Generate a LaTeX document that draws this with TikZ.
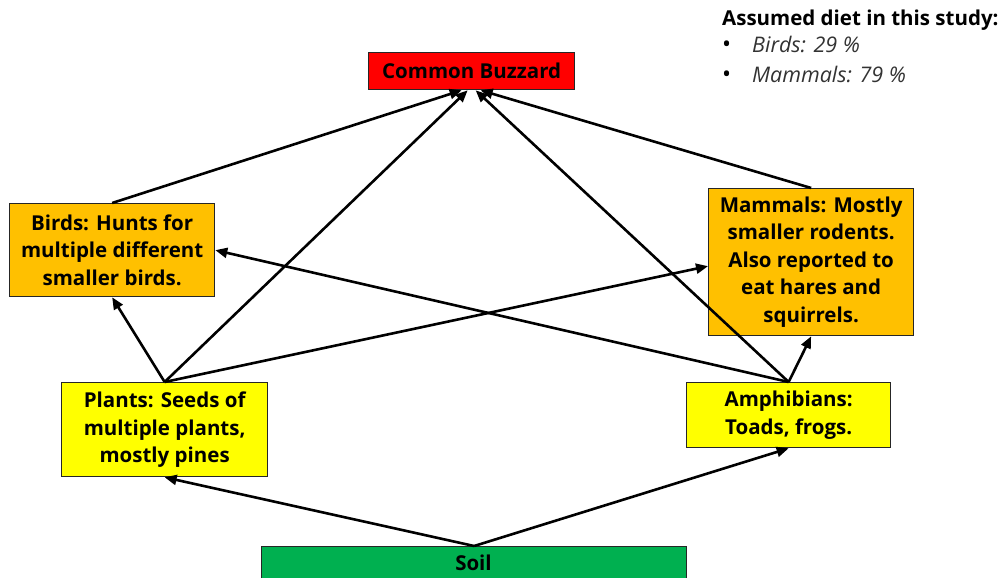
\documentclass[tikz,border=0pt]{standalone}
\usepackage{fontspec}
\setmainfont{Open Sans}
\usetikzlibrary{arrows.meta,calc}
\definecolor{buzzred}{HTML}{FF0000}
\definecolor{predorange}{HTML}{FFC000}
\definecolor{preyyellow}{HTML}{FFFF00}
\definecolor{soilgreen}{HTML}{00B050}
\begin{document}
\begin{tikzpicture}[x=1pt,y=-1pt,
  box/.style={draw=black!85,line width=1.3pt,anchor=north west,inner sep=0pt,
    align=center,font=\fontsize{20.5}{27.5}\selectfont\bfseries},
  feed/.style={line width=2.6pt,-{Triangle[length=12pt,width=10pt]}},
  legend/.style={anchor=base west,inner sep=0pt}]
\clip (0,0) rectangle (1007,578);
\fill[white] (0,0) rectangle (1007,578);

% trophic levels
\node[box,fill=buzzred,minimum width=206pt,minimum height=37pt] (buzz) at (368,52) {Common Buzzard};
\node[box,fill=predorange,minimum width=205pt,minimum height=93pt] (birds) at (9,203)
  {Birds: Hunts for\\multiple different\\smaller birds.};
\node[box,fill=predorange,minimum width=205pt,minimum height=147pt] (mammals) at (708,188)
  {Mammals: Mostly\\smaller rodents.\\Also reported to\\eat hares and\\squirrels.};
\node[box,fill=preyyellow,minimum width=206pt,minimum height=94pt] (plants) at (61,382)
  {Plants: Seeds of\\multiple plants,\\mostly pines};
\node[box,fill=preyyellow,minimum width=204pt,minimum height=65pt] (amph) at (686,382)
  {Amphibians:\\Toads, frogs.};
\node[box,fill=soilgreen,minimum width=425pt,minimum height=44pt] (soil) at (261,546) {};
\node[font=\fontsize{20.5}{22}\selectfont\bfseries,inner sep=0pt] (soiltext) at (473.5,563) {Soil};

% feeding links
\draw[feed] (birds.north) -- ([xshift=-10pt]buzz.south);
\draw[feed] (plants.north) -- ([xshift=-4pt]buzz.south);
\draw[feed] (amph.north) -- ([xshift=4pt]buzz.south);
\draw[feed] (mammals.north) -- ([xshift=9pt]buzz.south);
\draw[feed] (plants.north) -- (birds.south);
\draw[feed] (plants.north) -- ([yshift=-4pt]mammals.west);
\draw[feed] (amph.north) -- (birds.east);
\draw[feed] (amph.north) -- (mammals.south);
\draw[feed] (soil.north) -- (plants.south);
\draw[feed] (soil.north) -- (amph.south);

% diet legend
\node[legend,font=\fontsize{20.5}{22}\selectfont\bfseries] (legtitle) at (722,26) {Assumed diet in this study:};
\node[legend,font=\fontsize{24}{22}\selectfont] (bul1) at (722,53) {•};
\node[legend,text=black!80,font=\fontsize{21.5}{22}\selectfont\itshape] (item1) at (752,53) {Birds: 29 \%};
\node[legend,font=\fontsize{24}{22}\selectfont] (bul2) at (722,82) {•};
\node[legend,text=black!80,font=\fontsize{21.5}{22}\selectfont\itshape] (item2) at (752,82) {Mammals: 79 \%};
\end{tikzpicture}
\end{document}
